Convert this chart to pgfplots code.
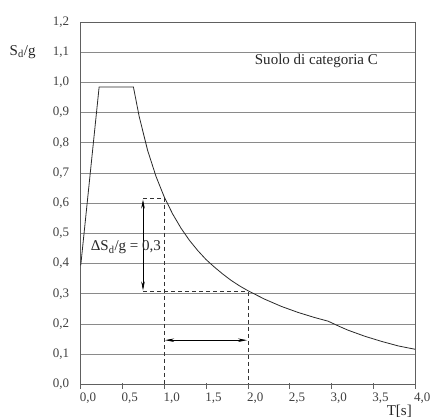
\documentclass[border=0pt]{standalone}
\usepackage{fontspec}
\setmainfont{Liberation Serif}
\usepackage{pgfplots}
\pgfplotsset{compat=1.18}
\usetikzlibrary{arrows.meta}

\definecolor{gridc}{HTML}{8A8A8A}
\definecolor{framec}{HTML}{606060}
\definecolor{curvec}{HTML}{2A2A2A}

\begin{document}
\begin{tikzpicture}
\begin{axis}[
    scale only axis,
    width=334pt,
    height=362pt,
    xmin=0, xmax=4,
    ymin=0, ymax=1.2,
    clip=false,
    xtick={0,0.5,1,1.5,2,2.5,3,3.5,4},
    ytick={0,0.1,0.2,0.3,0.4,0.5,0.6,0.7,0.8,0.9,1.0,1.1,1.2},
    xtick pos=lower,
    tick align=center,
    major tick length=6pt,
    xtick style={framec, line width=0.6pt, yshift=-1.5pt},
    ytick style={draw=none},
    ymajorgrids,
    grid style={gridc, line width=0.6pt},
    axis line style={framec, line width=0.7pt},
    /pgf/number format/assume math mode=true,
    /pgf/number format/use comma,
    /pgf/number format/fixed,
    /pgf/number format/fixed zerofill,
    /pgf/number format/precision=1,
    ticklabel style={font=\fontsize{13}{15}\selectfont, text=black!75, inner sep=0pt},
    x tick label style={anchor=north west, xshift=-1pt, yshift=-5pt},
    y tick label style={anchor=east, xshift=-8.5pt},
]
\addplot[curvec, line width=0.8pt] coordinates {
    (0,0.394) (0.22,0.985) (0.63,0.985)
    (0.70,0.886) (0.80,0.775) (0.90,0.689) (1.00,0.620)
    (1.10,0.564) (1.20,0.517) (1.30,0.477) (1.40,0.443)
    (1.50,0.413) (1.60,0.388) (1.70,0.365) (1.80,0.344)
    (1.90,0.326) (2.00,0.310) (2.20,0.282) (2.40,0.258)
    (2.60,0.238) (2.80,0.221) (2.96,0.209) (3.10,0.191)
    (3.20,0.179) (3.40,0.159) (3.60,0.142) (3.80,0.127)
    (4.00,0.116)
};

% dashed construction lines
\draw[black!80, line width=0.6pt, dash pattern=on 4pt off 3pt]
    (axis cs:0.745,0.617) -- (axis cs:1.0,0.617) -- (axis cs:1.0,0);
\draw[black!80, line width=0.6pt, dash pattern=on 4pt off 3pt]
    (axis cs:0.745,0.307) -- (axis cs:2.0,0.307) -- (axis cs:2.0,0);

% arrows
\draw[black, line width=0.6pt, {Stealth[length=9pt,width=3.5pt]}-{Stealth[length=9pt,width=3.5pt]}]
    (axis cs:0.745,0.612) -- (axis cs:0.745,0.311);
\draw[black, line width=0.6pt, {Stealth[length=9pt,width=3.5pt]}-{Stealth[length=9pt,width=3.5pt]}]
    (axis cs:1.01,0.146) -- (axis cs:1.99,0.146);

% texts
\node[font=\fontsize{15}{17}\selectfont, text=black!85, inner sep=0pt]
    at (axis cs:0.54,0.453) {ΔS\textsubscript{d}/g = 0,3};
\node[font=\fontsize{15}{17}\selectfont, text=black!85, inner sep=0pt]
    at (axis cs:2.82,1.07) {Suolo di categoria C};
\node[font=\fontsize{15}{17}\selectfont, text=black!85, inner sep=0pt, anchor=east]
    at (rel axis cs:0,0.9167) [xshift=-45pt] {S\textsubscript{d}/g};
\node[font=\fontsize{15}{17}\selectfont, text=black!85, inner sep=0pt, anchor=east]
    at (rel axis cs:1,0) [xshift=-3pt, yshift=-27pt] {T[s]};

% page margins as in the reference
\path (rel axis cs:0,0) ++(-80.7pt,-33.3pt);
\path (rel axis cs:1,1) ++(16pt,22pt);
\end{axis}
\end{tikzpicture}
\end{document}
